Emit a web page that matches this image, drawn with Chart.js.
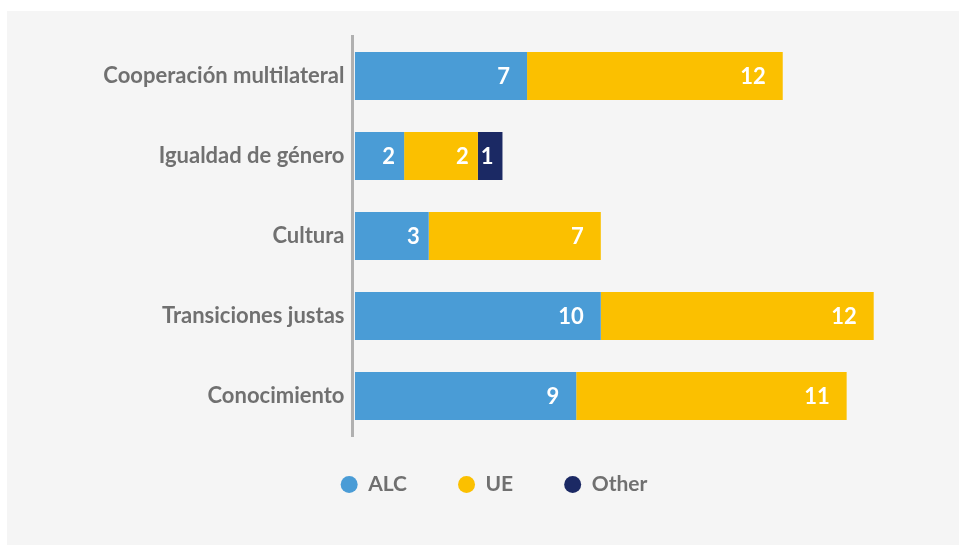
<!DOCTYPE html>
<html>
<head>
<meta charset="utf-8">
<script src="https://cdn.jsdelivr.net/npm/chart.js@4.4.1/dist/chart.umd.min.js"></script>
<style>
  html, body { margin: 0; padding: 0; background: #ffffff; }
  #panel { position: absolute; left: 7px; top: 11px; width: 952px; height: 534px; background: #f5f5f5; }
  #chart { display: block; }
</style>
</head>
<body>
<div id="panel"><canvas id="chart" width="952" height="534"></canvas></div>
<script>
var categories = ['Cooperación multilateral', 'Igualdad de género', 'Cultura', 'Transiciones justas', 'Conocimiento'];
var alcValues = [7, 2, 3, 10, 9];
var ueValues = [10.4, 3, 7, 11.1, 11];
var otherValues = [null, 1, null, null, null];
var alcLabels = ['7', '2', '3', '10', '9'];
var ueLabels = ['12', '2', '7', '12', '11'];
var otherLabels = ['', '1', '', '', ''];

var blue = '#4a9cd6',
    yellow = '#fbc000',
    navy = '#1b2964',
    grey = '#707070';

var FONT = 'Lato, "Open Sans", sans-serif';

// white numbers sitting near the end of each segment
var segmentLabels = {
    id: 'segmentLabels',
    afterDatasetsDraw: function (chart) {
        var ctx = chart.ctx;
        var texts = [alcLabels, ueLabels, otherLabels];
        ctx.save();
        ctx.fillStyle = '#ffffff';
        ctx.font = 'bold 22px ' + FONT;
        ctx.textAlign = 'right';
        ctx.textBaseline = 'middle';
        chart.data.datasets.forEach(function (ds, i) {
            chart.getDatasetMeta(i).data.forEach(function (bar, j) {
                var txt = texts[i][j];
                if (!txt) return;
                var w = Math.abs(bar.x - bar.base);
                var gap = w < 100 ? 9 : 17;
                ctx.fillText(txt, bar.x - gap, bar.y + 1);
            });
        });
        ctx.restore();
    }
};

// pull the legend row a little closer to the bars, and a bit to the right
var legendNudge = {
    id: 'legendNudge',
    afterLayout: function (chart) {
        var lg = chart.legend;
        var h = lg.bottom - lg.top;
        lg.top = chart.chartArea.bottom + 38 - lg.options.labels.padding;
        lg.bottom = lg.top + h;
        lg.left += 18;
        lg.right += 18;
    }
};

new Chart(document.getElementById('chart'), {
    type: 'bar',
    data: {
        labels: categories,
        datasets: [
            { label: 'ALC', data: alcValues, backgroundColor: blue },
            { label: 'UE', data: ueValues, backgroundColor: yellow },
            { label: 'Other', data: otherValues, backgroundColor: navy }
        ]
    },
    options: {
        indexAxis: 'y',
        responsive: false,
        animation: false,
        categoryPercentage: 1,
        barPercentage: 0.6,
        layout: { padding: { top: 25, right: 14, bottom: 27, left: 0 } },
        scales: {
            x: {
                stacked: true,
                display: false,
                min: -0.1,
                max: 24
            },
            y: {
                stacked: true,
                grid: { display: false, drawTicks: false },
                border: { display: true, color: '#b0b0b0', width: 3 },
                ticks: {
                    color: grey,
                    padding: 8,
                    font: { family: FONT, size: 22, weight: 'bold' }
                },
                afterFit: function (scale) { scale.width = 345.5; }
            }
        },
        plugins: {
            tooltip: { enabled: false },
            legend: {
                position: 'bottom',
                labels: {
                    usePointStyle: true,
                    pointStyle: 'circle',
                    pointStyleWidth: 17,
                    boxHeight: 12,
                    padding: 51,
                    color: grey,
                    font: { family: FONT, size: 21, weight: 'bold' }
                }
            }
        }
    },
    plugins: [segmentLabels, legendNudge]
});
</script>
</body>
</html>
